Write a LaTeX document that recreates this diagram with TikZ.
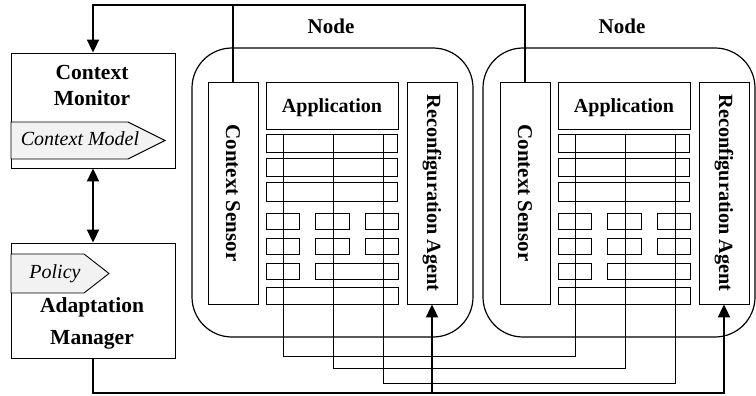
\documentclass[tikz,border=0pt]{standalone}
\usepackage{fontspec}
\setmainfont{Liberation Serif}
\usetikzlibrary{arrows.meta}
\definecolor{tagfill}{HTML}{F2F2F2}
\begin{document}
\begin{tikzpicture}[x=1pt,y=-1pt,
  box/.style={draw, line width=0.9pt, inner sep=0pt, rectangle},
  comp/.style={draw, line width=0.8pt, inner sep=0pt, rectangle},
  nodebox/.style={draw, line width=1.2pt, rounded corners=40pt},
  tag/.style={draw, line width=0.9pt, fill=tagfill},
  tip/.style={-{Triangle[length=13pt,width=12pt]}},
  thickline/.style={line width=2pt},
  wire/.style={line width=0.8pt},
  lbl/.style={font=\bfseries\fontsize{21.5}{24}\selectfont, anchor=base, inner sep=0pt},
  applbl/.style={font=\bfseries\fontsize{20}{24}\selectfont, anchor=base, inner sep=0pt},
  taglbl/.style={font=\itshape\fontsize{20}{24}\selectfont, anchor=base, inner sep=0pt},
  rotlbl/.style={font=\bfseries\fontsize{21}{24}\selectfont, rotate=-90, inner sep=0pt},
]
\useasboundingbox (0,0) rectangle (756,396);

% left boxes
\node[box, minimum width=164pt, minimum height=115pt] (cm) at (93,110.5) {};
\node[box, minimum width=164pt, minimum height=115pt] (am) at (93,300.5) {};
\node[lbl] (cmt1) at (92,80) {Context};
\node[lbl] (cmt2) at (92,106) {Monitor};
\draw[tag] (11,122) -- (128,122) -- (165,140.5) -- (128,159) -- (11,159) -- cycle;
\node[taglbl] (cmodel) at (80,146) {Context Model};
\draw[tag] (11,254) -- (84,254) -- (109,273.5) -- (84,293) -- (11,293) -- cycle;
\node[taglbl] (policy) at (55,278) {Policy};
\node[lbl] (amt1) at (92,312) {Adaptation};
\node[lbl] (amt2) at (92,344) {Manager};

% node containers
\draw[nodebox] (192,48) rectangle (473,337);
\draw[nodebox] (483,48) rectangle (755,337);
\node[lbl, font=\bfseries\fontsize{21}{24}\selectfont] (n1) at (331,34) {Node};
\node[lbl, font=\bfseries\fontsize{21}{24}\selectfont] (n2) at (622,34) {Node};

\foreach \k/\dx in {a/0,b/292}{
  \node[box, minimum width=50pt, minimum height=222pt] (cs\k) at (233+\dx,193) {};
  \node[rotlbl] at (cs\k.center) {Context Sensor};
  \node[box, minimum width=50pt, minimum height=222pt] (ra\k) at (432+\dx,193) {};
  \node[rotlbl, font=\bfseries\fontsize{20.2}{24}\selectfont] at (ra\k.center) {Reconfiguration Agent};
  \node[box, minimum width=132pt, minimum height=47pt] (app\k) at (332+\dx,105.5) {};
  \node[applbl] at (332+\dx,113) {Application};
  % component rows
  \node[comp, minimum width=131pt, minimum height=18pt] (r1\k) at (331.5+\dx,143) {};
  \node[comp, minimum width=131pt, minimum height=18pt] (r2\k) at (331.5+\dx,167) {};
  \node[comp, minimum width=131pt, minimum height=19pt] (r3\k) at (331.5+\dx,191.5) {};
  \node[comp, minimum width=33pt, minimum height=16pt] (r4x\k) at (282.5+\dx,221) {};
  \node[comp, minimum width=34pt, minimum height=16pt] (r4y\k) at (332+\dx,221) {};
  \node[comp, minimum width=33pt, minimum height=16pt] (r4z\k) at (381.5+\dx,221) {};
  \node[comp, minimum width=33pt, minimum height=16pt] (r5x\k) at (282.5+\dx,246) {};
  \node[comp, minimum width=34pt, minimum height=16pt] (r5y\k) at (332+\dx,246) {};
  \node[comp, minimum width=33pt, minimum height=16pt] (r5z\k) at (381.5+\dx,246) {};
  \node[comp, minimum width=33pt, minimum height=16pt] (r6x\k) at (282.5+\dx,271) {};
  \node[comp, minimum width=83pt, minimum height=16pt] (r6w\k) at (356.5+\dx,271) {};
  \node[comp, minimum width=132pt, minimum height=17pt] (r7\k) at (332+\dx,295.5) {};
  \coordinate (w1\k) at (283+\dx,134);
  \coordinate (w2\k) at (333+\dx,134);
  \coordinate (w3\k) at (383+\dx,134);
}

% wires between the nodes
\coordinate (bw1) at (0,356);
\coordinate (bw2) at (0,368);
\coordinate (bw3) at (0,383);
\draw[wire] (w1a) -- (w1a |- bw1) -- (w1b |- bw1) -- (w1b);
\draw[wire] (w2a) -- (w2a |- bw2) -- (w2b |- bw2) -- (w2b);
\draw[wire] (w3a) -- (w3a |- bw3) -- (w3b |- bw3) -- (w3b);

% thick connectors
\coordinate (top) at (0,5);
\coordinate (bot) at (0,393);
\draw[thickline, tip] (csb.north) -- (csb.north |- top) -- (cm.north |- top) -- (cm.north);
\draw[thickline] (csa.north) -- (csa.north |- top);
\draw[thickline, {Triangle[length=13pt,width=12pt]}-{Triangle[length=13pt,width=12pt]}] (cm.south) -- (am.north);
\draw[thickline, tip] (am.south) -- (am.south |- bot) -- (rab.south |- bot) -- (rab.south);
\draw[thickline, tip] (raa.south |- bot) -- (raa.south);
\end{tikzpicture}
\end{document}
